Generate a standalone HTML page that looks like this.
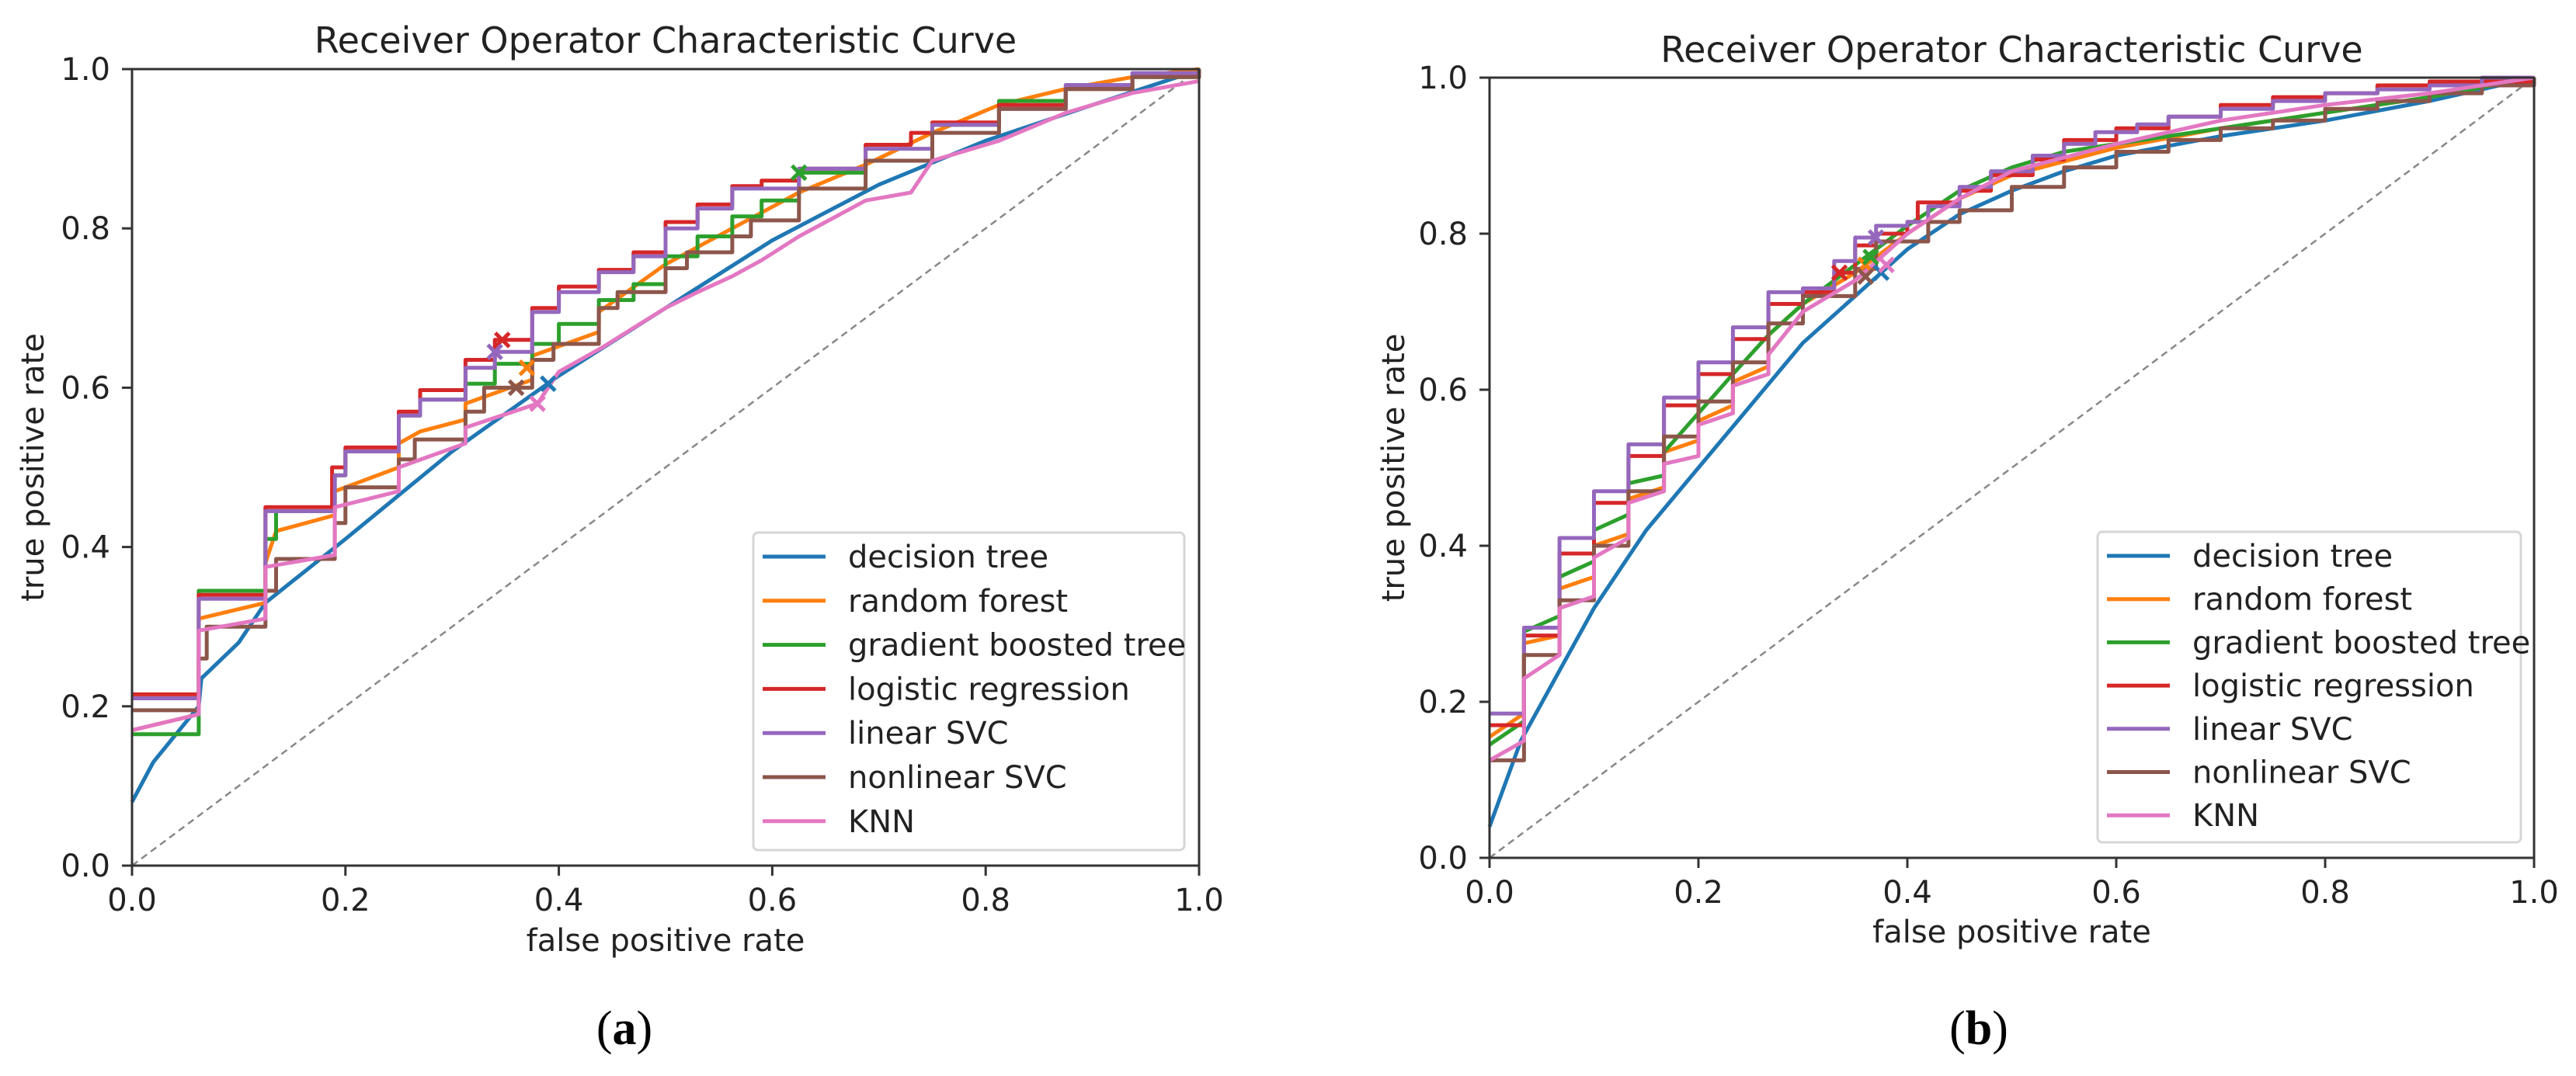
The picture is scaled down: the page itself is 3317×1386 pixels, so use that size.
<!DOCTYPE html>
<html><head><meta charset="utf-8">
<style>
html,body{margin:0;padding:0;background:#fff;}
svg{display:block;}
text{font-family:"DejaVu Sans","Liberation Sans",sans-serif;fill:#222;}
</style></head>
<body>
<svg id="fig" width="3317" height="1386" viewBox="0 0 3317 1386" xmlns="http://www.w3.org/2000/svg">
<rect width="3317" height="1386" fill="#fff"/>
<text x="804" y="1345" text-anchor="middle" style="font-family:'Liberation Serif',serif;font-size:62px;fill:#000">(<tspan font-weight="bold">a</tspan>)</text>
<text x="2548" y="1345" text-anchor="middle" style="font-family:'Liberation Serif',serif;font-size:62px;fill:#000">(<tspan font-weight="bold">b</tspan>)</text>
</svg>
<script>
const tickValues = [0, 0.2, 0.4, 0.6, 0.8, 1.0];
const tickLabels = ["0.0", "0.2", "0.4", "0.6", "0.8", "1.0"];
const seriesNames = ["decision tree","random forest","gradient boosted tree","logistic regression","linear SVC","nonlinear SVC","KNN"];
const seriesColors = ["#1f77b4","#ff7f0e","#2ca02c","#d62728","#9467bd","#8c564b","#e377c2"];

// Panel A data (fpr/tpr polylines)
const aTreeFpr = [0,0.02,0.0625,0.065,0.1,0.125,0.2,0.3,0.4,0.5,0.6,0.7,0.8,0.9,0.98,1];
const aTreeTpr = [0.08,0.13,0.2,0.235,0.28,0.33,0.41,0.52,0.615,0.7,0.785,0.855,0.91,0.955,0.99,1];
const aForestFpr = [0,0.0625,0.0625,0.125,0.125,0.135,0.19,0.19,0.25,0.25,0.27,0.3125,0.3125,0.375,0.375,0.4375,0.4375,0.5,0.5625,0.625,0.6875,0.75,0.8125,0.875,0.9375,1];
const aForestTpr = [0.17,0.19,0.31,0.33,0.38,0.42,0.44,0.47,0.5,0.53,0.545,0.56,0.58,0.61,0.64,0.67,0.695,0.755,0.8,0.845,0.88,0.92,0.955,0.975,0.99,1];
const aGbtX = [0,0.0625,0.125,0.135,0.19,0.2,0.25,0.27,0.3125,0.34,0.375,0.4,0.4375,0.47,0.5,0.53,0.5625,0.59,0.625,0.6875,0.75,0.8125,0.875,0.9375,1];
const aGbtY = [0.165,0.345,0.41,0.445,0.49,0.52,0.565,0.585,0.605,0.63,0.655,0.68,0.71,0.73,0.765,0.79,0.815,0.835,0.87,0.885,0.93,0.96,0.975,0.99,1];
const aLogX = [0,0.0625,0.125,0.1875,0.2,0.25,0.27,0.3125,0.34,0.375,0.4,0.4375,0.47,0.5,0.53,0.5625,0.59,0.625,0.6875,0.73,0.75,0.8125,0.875,0.9375,1];
const aLogY = [0.215,0.34,0.45,0.5,0.525,0.57,0.597,0.635,0.66,0.7,0.727,0.748,0.77,0.808,0.83,0.853,0.86,0.875,0.905,0.92,0.933,0.955,0.975,0.993,1];
const aLinX = [0,0.0625,0.125,0.19,0.2,0.25,0.27,0.3125,0.34,0.375,0.4,0.4375,0.47,0.5,0.53,0.5625,0.625,0.6875,0.75,0.8125,0.875,0.9375,1];
const aLinY = [0.21,0.335,0.445,0.49,0.52,0.565,0.585,0.625,0.645,0.695,0.72,0.745,0.765,0.8,0.825,0.85,0.875,0.9,0.93,0.95,0.98,0.995,1];
const aNlX = [0,0.0625,0.07,0.125,0.135,0.19,0.2,0.25,0.265,0.3125,0.33,0.375,0.395,0.4375,0.455,0.5,0.52,0.5625,0.58,0.625,0.6875,0.75,0.8125,0.875,0.9375,1];
const aNlY = [0.195,0.26,0.3,0.345,0.385,0.43,0.475,0.51,0.535,0.57,0.6,0.635,0.655,0.7,0.72,0.75,0.77,0.79,0.81,0.85,0.885,0.92,0.95,0.975,0.99,1];
const aKnnFpr = [0,0.0625,0.0625,0.125,0.125,0.19,0.19,0.25,0.25,0.3125,0.3125,0.38,0.4,0.44,0.47,0.5,0.53,0.5625,0.59,0.625,0.6875,0.73,0.75,0.8125,0.875,0.9375,1];
const aKnnTpr = [0.17,0.19,0.295,0.31,0.375,0.39,0.45,0.47,0.5,0.53,0.55,0.58,0.62,0.65,0.675,0.7,0.72,0.74,0.76,0.79,0.835,0.845,0.885,0.91,0.945,0.97,0.985];
const aMarkX = [0.39,0.37,0.625,0.347,0.34,0.36,0.38];
const aMarkY = [0.605,0.625,0.87,0.66,0.645,0.6,0.58];

// Panel B data
const bTreeFpr = [0,0.03,0.067,0.1,0.15,0.2,0.25,0.3,0.35,0.4,0.45,0.5,0.55,0.6,0.7,0.8,0.9,1];
const bTreeTpr = [0.04,0.15,0.24,0.32,0.42,0.5,0.58,0.66,0.72,0.78,0.825,0.855,0.88,0.9,0.925,0.945,0.97,1];
const bForestFpr = [0,0.033,0.033,0.067,0.067,0.1,0.1,0.133,0.133,0.167,0.167,0.2,0.2,0.233,0.233,0.267,0.267,0.3,0.35,0.4,0.45,0.5,0.6,0.7,0.8,0.9,1];
const bForestTpr = [0.155,0.185,0.275,0.285,0.345,0.36,0.4,0.415,0.46,0.475,0.52,0.535,0.56,0.58,0.61,0.63,0.67,0.71,0.75,0.8,0.845,0.875,0.91,0.935,0.955,0.975,1];
const bGbtFpr = [0,0.033,0.033,0.067,0.067,0.1,0.1,0.133,0.133,0.167,0.167,0.2,0.233,0.267,0.3,0.35,0.4,0.45,0.5,0.55,0.6,0.7,0.8,0.9,1];
const bGbtTpr = [0.145,0.175,0.29,0.31,0.36,0.38,0.42,0.44,0.48,0.49,0.52,0.57,0.62,0.67,0.71,0.76,0.81,0.855,0.885,0.905,0.915,0.935,0.955,0.975,1];
const bLogX = [0,0.033,0.067,0.1,0.133,0.167,0.2,0.233,0.267,0.3,0.33,0.35,0.37,0.4,0.41,0.45,0.48,0.52,0.55,0.6,0.65,0.7,0.75,0.8,0.85,0.9,1];
const bLogY = [0.17,0.285,0.39,0.455,0.515,0.58,0.62,0.665,0.71,0.725,0.75,0.785,0.8,0.815,0.84,0.855,0.875,0.895,0.92,0.935,0.95,0.965,0.975,0.98,0.99,0.995,1];
const bLinX = [0,0.033,0.067,0.1,0.133,0.167,0.2,0.233,0.267,0.3,0.33,0.35,0.37,0.4,0.42,0.45,0.48,0.52,0.55,0.58,0.62,0.65,0.7,0.75,0.8,0.85,0.9,0.95,1];
const bLinY = [0.185,0.295,0.41,0.47,0.53,0.59,0.635,0.68,0.725,0.73,0.765,0.795,0.81,0.815,0.835,0.86,0.88,0.9,0.915,0.93,0.94,0.95,0.96,0.97,0.98,0.985,0.99,1,1];
const bNlX = [0,0.033,0.067,0.1,0.133,0.167,0.2,0.233,0.267,0.3,0.35,0.37,0.42,0.45,0.5,0.55,0.6,0.65,0.7,0.75,0.8,0.85,0.9,0.95,1];
const bNlY = [0.125,0.26,0.33,0.4,0.47,0.54,0.585,0.635,0.685,0.72,0.755,0.79,0.815,0.83,0.86,0.885,0.905,0.92,0.935,0.945,0.96,0.97,0.98,0.99,1];
const bKnnFpr = [0,0.033,0.033,0.067,0.067,0.1,0.1,0.133,0.133,0.167,0.167,0.2,0.2,0.233,0.233,0.267,0.267,0.3,0.35,0.4,0.45,0.5,0.6,0.7,0.8,0.9,1];
const bKnnTpr = [0.125,0.15,0.23,0.26,0.32,0.335,0.385,0.41,0.455,0.47,0.505,0.515,0.555,0.57,0.605,0.62,0.645,0.7,0.74,0.8,0.845,0.88,0.915,0.945,0.965,0.98,1];
const bMarkX = [0.375,0.36,0.365,0.335,0.37,0.36,0.38];
const bMarkY = [0.75,0.76,0.77,0.75,0.795,0.745,0.76];

const NS = "http://www.w3.org/2000/svg";
const svg = document.getElementById('fig');
function mk(tag, attrs, parent){const e=document.createElementNS(NS,tag);for(const k in attrs)e.setAttribute(k,attrs[k]);(parent||svg).appendChild(e);return e;}

function drawPanel(p, series, markX, markY){
  const g = mk('g',{});
  
  
  const sx = v => p.L + v*(p.R-p.L);
  const sy = v => p.B - v*(p.B-p.T);
  const diag = mk('line',{x1:sx(0),y1:sy(0),x2:sx(1),y2:sy(1),stroke:'#888','stroke-width':2.5,'stroke-dasharray':'9 6'},g);
  
  
  series.forEach((s,i)=>{
    let pts=[];
    if(s.step){
      for(let k=0;k<s.x.length;k++){
        pts.push([sx(s.x[k]),sy(s.y[k])]);
        if(k<s.x.length-1) pts.push([sx(s.x[k+1]),sy(s.y[k])]);
      }
    } else {
      for(let k=0;k<s.x.length;k++) pts.push([sx(s.x[k]),sy(s.y[k])]);
    }
    const pl = mk('polyline',{points:pts.map(q=>q[0].toFixed(1)+','+q[1].toFixed(1)).join(' '),fill:'none',stroke:seriesColors[i],'stroke-width':5,'stroke-linejoin':'round'},g);
    
    
  });
  markX.forEach((mx,i)=>{
    const cx=sx(mx), cy=sy(markY[i]), r=9;
    const m = mk('path',{d:`M${cx-r},${cy-r}L${cx+r},${cy+r}M${cx-r},${cy+r}L${cx+r},${cy-r}`,stroke:seriesColors[i],'stroke-width':5,fill:'none'},g);
    
    
  });
  const fr = mk('rect',{x:p.L,y:p.T,width:p.R-p.L,height:p.B-p.T,fill:'none',stroke:'#333','stroke-width':3},g);
  
  
  tickValues.forEach((v,i)=>{
    const t1 = mk('line',{x1:sx(v),y1:p.B,x2:sx(v),y2:p.B+13,stroke:'#333','stroke-width':3},g);
    
    
    const l1 = mk('text',{x:sx(v),y:p.B+58,'text-anchor':'middle','font-size':40},g);
    l1.textContent = tickLabels[i];
    
    
    const t2 = mk('line',{x1:p.L-13,y1:sy(v),x2:p.L,y2:sy(v),stroke:'#333','stroke-width':3},g);
    
    
    const l2 = mk('text',{x:p.L-28,y:sy(v)+14,'text-anchor':'end','font-size':40},g);
    l2.textContent = tickLabels[i];
    
    
  });
  const title = mk('text',{x:(p.L+p.R)/2,y:p.titleY,'text-anchor':'middle','font-size':46},g);
  title.textContent = 'Receiver Operator Characteristic Curve';
  
  
  const xl = mk('text',{x:(p.L+p.R)/2,y:p.xlY,'text-anchor':'middle','font-size':40},g);
  xl.textContent = 'false positive rate';
  
  
  const yc=(p.T+p.B)/2;
  const yl = mk('text',{x:p.ylX,y:yc,'text-anchor':'middle','font-size':40,transform:`rotate(-90 ${p.ylX} ${yc})`},g);
  yl.textContent = 'true positive rate';
  
  
  const lg = mk('g',{},g);
  
  
  const box = mk('rect',{x:p.lgL,y:p.lgT,width:p.lgR-p.lgL,height:p.lgB-p.lgT,rx:6,fill:'#fff',stroke:'#d6d6d6','stroke-width':3},lg);
  
  
  seriesNames.forEach((n,i)=>{
    const y = p.lgY0 + i*p.lgDy;
    const ln = mk('line',{x1:p.lgL+12,y1:y,x2:p.lgL+93,y2:y,stroke:seriesColors[i],'stroke-width':5},lg);
    
    
    const tx = mk('text',{x:p.lgL+122,y:y+14,'font-size':40},lg);
    tx.textContent = n;
    
    
  });
}

drawPanel({id:'panel-a',L:170,R:1544,T:89,B:1115,titleY:68,xlY:1225,ylX:56,lgL:970,lgR:1525,lgT:686,lgB:1095,lgY0:717,lgDy:56.8},
  [{x:aTreeFpr,y:aTreeTpr},{x:aForestFpr,y:aForestTpr},{x:aGbtX,y:aGbtY,step:true},{x:aLogX,y:aLogY,step:true},{x:aLinX,y:aLinY,step:true},{x:aNlX,y:aNlY,step:true},{x:aKnnFpr,y:aKnnTpr}],
  aMarkX,aMarkY);
drawPanel({id:'panel-b',L:1918,R:3263,T:100,B:1105,titleY:80,xlY:1214,ylX:1808,lgL:2701,lgR:3246,lgT:685,lgB:1085,lgY0:716,lgDy:55.7},
  [{x:bTreeFpr,y:bTreeTpr},{x:bForestFpr,y:bForestTpr},{x:bGbtFpr,y:bGbtTpr},{x:bLogX,y:bLogY,step:true},{x:bLinX,y:bLinY,step:true},{x:bNlX,y:bNlY,step:true},{x:bKnnFpr,y:bKnnTpr}],
  bMarkX,bMarkY);
</script>
</body></html>
